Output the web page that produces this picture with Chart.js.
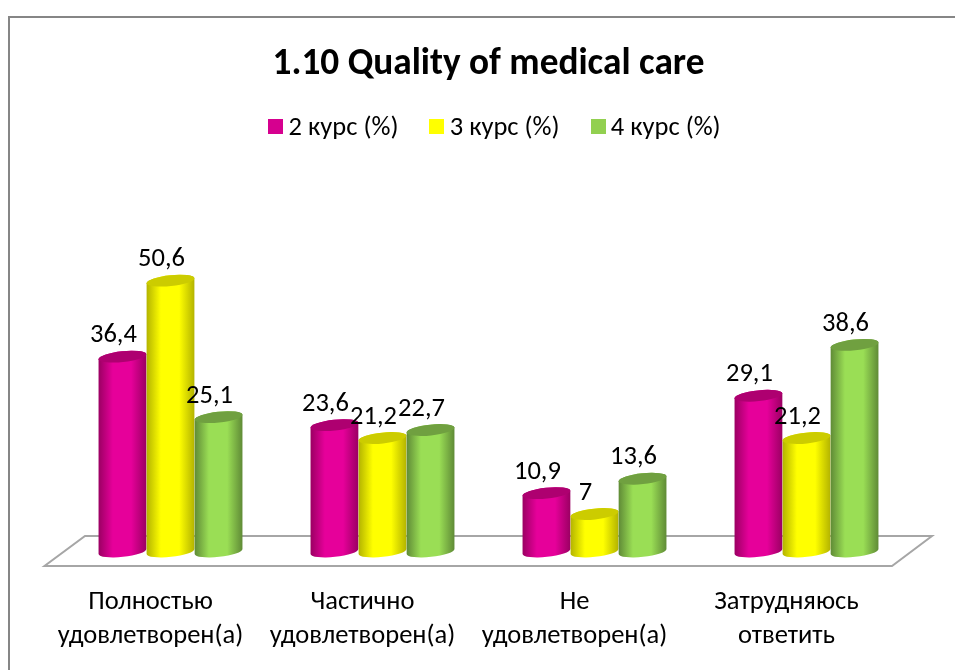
<!DOCTYPE html>
<html><head><meta charset="utf-8">
<style>html,body{margin:0;padding:0;background:#fff}canvas{display:block}</style>
<script src="https://cdn.jsdelivr.net/npm/chart.js@4"></script>
</head><body><canvas id="c" width="955" height="670"></canvas>
<script>
const categories = [["Полностью","удовлетворен(а)"],["Частично","удовлетворен(а)"],["Не","удовлетворен(а)"],["Затрудняюсь","ответить"]];
const seriesNames = ["2 курс (%)","3 курс (%)","4 курс (%)"];
const course2 = [36.4,23.6,10.9,29.1];
const course3 = [50.6,21.2,7,21.2];
const course4 = [25.1,22.7,13.6,38.6];

const FONT = "Carlito, Lato, 'Open Sans', sans-serif";
const swatch = ["#D6008F","#FFFF00","#92D050"];
const shades = [
  {edge:"#9A0062",mid:"#E6009A",cap:"#AE0070"},
  {edge:"#B3B300",mid:"#FFFF00",cap:"#CCCC00"},
  {edge:"#5F8A36",mid:"#9ADE55",cap:"#70A040"}
];
const TILT = -6*Math.PI/180, RY = 5.4;

const cylinders = {
  id:"cylinders",
  afterLayout(chart){
    const l = chart.legend;
    l.left += 9; l.right += 9; l.top -= 9;
  },
  beforeDraw(chart){
    const c = chart.ctx, a = chart.chartArea;
    c.save();
    c.strokeStyle="#868686"; c.lineWidth=2;
    c.beginPath(); c.moveTo(9,670); c.lineTo(9,17); c.lineTo(955,17); c.stroke();
    c.strokeStyle="#A6A6A6"; c.lineWidth=2; c.lineJoin="miter";
    const f = a.bottom+14.5, b = a.bottom-15.5;
    c.beginPath();
    c.moveTo(a.left-20,f); c.lineTo(a.right-20.5,f); c.lineTo(a.right+19.5,b);
    c.lineTo(a.left+20.5,b); c.closePath(); c.stroke();
    c.restore();
  },
  beforeDatasetsDraw(chart){
    const c = chart.ctx;
    chart.data.datasets.forEach((ds,i)=>{
      const s = shades[i];
      chart.getDatasetMeta(i).data.forEach(el=>{
        const {x,y,base,width} = el.getProps(["x","y","base","width"],true);
        const rx = width/2, dx = rx*Math.cos(TILT), dy = rx*Math.sin(TILT);
        const g = c.createLinearGradient(x-rx,0,x+rx,0);
        g.addColorStop(0,s.edge); g.addColorStop(.3,s.mid); g.addColorStop(.68,s.mid); g.addColorStop(1,s.edge);
        c.save();
        c.fillStyle=g;
        c.beginPath();
        c.moveTo(x-dx,y-dy); c.lineTo(x-dx,base-dy);
        c.ellipse(x,base,rx,RY,TILT,Math.PI,0,true);
        c.lineTo(x+dx,y+dy);
        c.ellipse(x,y,rx,RY,TILT,0,Math.PI,true);
        c.closePath(); c.fill();
        c.fillStyle=s.cap;
        c.beginPath(); c.ellipse(x,y,rx,RY,TILT,0,2*Math.PI); c.fill();
        c.restore();
      });
    });
  },
  beforeDatasetDraw(){ return false; },
  afterDatasetsDraw(chart){
    const c = chart.ctx;
    c.save();
    c.font="26.5px "+FONT; c.fillStyle="#000"; c.textAlign="center"; c.textBaseline="middle";
    chart.data.datasets.forEach((ds,i)=>{
      chart.getDatasetMeta(i).data.forEach((el,j)=>{
        c.fillText(String(ds.data[j]).replace(".",","),el.x-9,el.y-21);
      });
    });
    c.restore();
  },
  afterDraw(chart){
    const c = chart.ctx;
    c.save();
    chart.legend.legendHitBoxes.forEach((h,i)=>{
      c.fillStyle=swatch[i];
      c.fillRect(Math.round(h.left-6),119,15,15);
    });
    c.restore();
  }
};

new Chart(document.getElementById("c"),{
  type:"bar",
  data:{labels:categories,datasets:[
    {label:seriesNames[0],data:course2,backgroundColor:swatch[0]},
    {label:seriesNames[1],data:course3,backgroundColor:swatch[1]},
    {label:seriesNames[2],data:course4,backgroundColor:swatch[2]}
  ]},
  plugins:[cylinders],
  options:{
    responsive:false,animation:false,
    layout:{padding:{left:64.5,right:42.5,top:0,bottom:0}},
    datasets:{bar:{categoryPercentage:.68,barPercentage:1}},
    plugins:{
      tooltip:{enabled:false},
      title:{display:true,text:"1.10 Quality of medical care",color:"#000",
        font:{family:FONT,size:37.3,weight:"bold"},padding:{top:42,bottom:0}},
      legend:{position:"top",labels:{color:"#000",boxWidth:1,boxHeight:11,padding:37,
        font:{family:FONT,size:26.5}}}
    },
    scales:{
      x:{grid:{display:false},border:{display:false},
        afterFit(s){s.height=118.5;},
        ticks:{color:"#000",padding:26,labelOffset:-20,maxRotation:0,minRotation:0,autoSkip:false,
          font:{family:FONT,size:26.5,lineHeight:1.29}}},
      y:{display:false,min:0,max:73.1}
    }
  }
});
</script></body></html>
